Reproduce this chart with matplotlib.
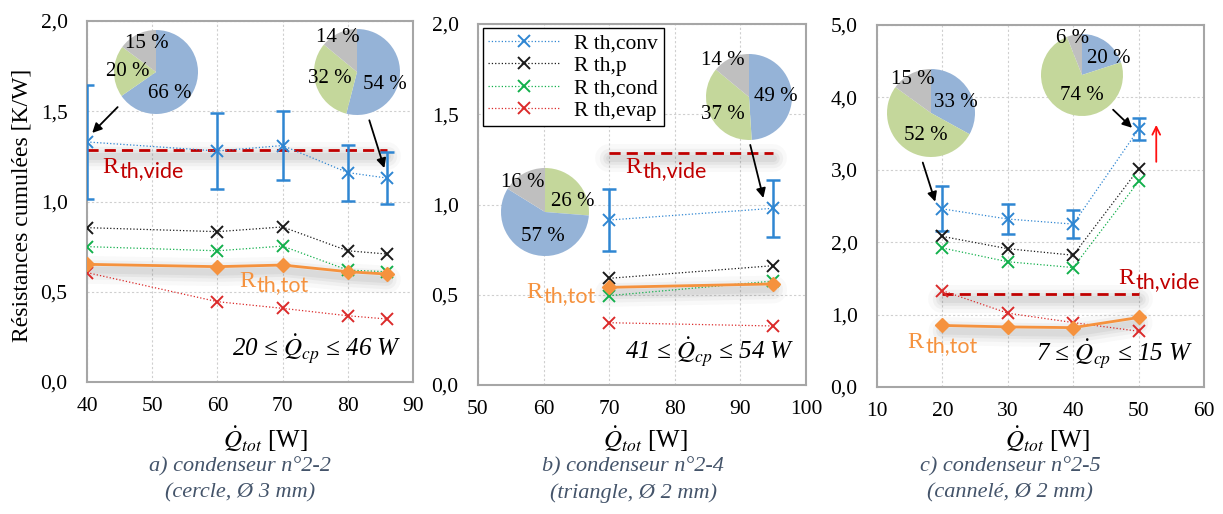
import matplotlib
matplotlib.use("Agg")
import matplotlib.pyplot as plt
import matplotlib.transforms as mtransforms

plt.rcParams['font.family'] = ['Liberation Serif', 'DejaVu Serif']
plt.rcParams['mathtext.fontset'] = 'stix'

# ---- data ----
# a) condenseur 2-2
q_a = [40, 60, 70, 80, 86]
conv_a = [1.33, 1.28, 1.31, 1.16, 1.13]
conv_err_a = [0.315, 0.21, 0.19, 0.155, 0.145]
p_a = [0.855, 0.833, 0.859, 0.727, 0.709]
cond_a = [0.75, 0.727, 0.753, 0.62, 0.611]
evap_a = [0.606, 0.445, 0.408, 0.367, 0.349]
tot_a = [0.652, 0.639, 0.648, 0.611, 0.598]
vide_a = 1.285

# b) condenseur 2-4
q_b = [70, 95]
conv_b = [0.914, 0.979]
conv_err_b = [0.174, 0.157]
p_b = [0.591, 0.661]
cond_b = [0.495, 0.576]
evap_b = [0.345, 0.327]
tot_b = [0.541, 0.56]
vide_b = 1.287

# c) condenseur 2-5
q_c = [20, 30, 40, 50]
conv_c = [2.46, 2.32, 2.25, 3.56]
conv_err_c = [0.31, 0.21, 0.19, 0.155]
p_c = [2.08, 1.91, 1.82, 3.01]
cond_c = [1.92, 1.73, 1.65, 2.84]
evap_c = [1.33, 1.02, 0.89, 0.77]
tot_c = [0.85, 0.83, 0.82, 0.96]
vide_c = 1.29

# pie shares, in drawing order (clockwise from top)
pie_a1 = [66, 20, 15]
pie_a2 = [54, 32, 14]
pie_b1 = [26, 57, 16]
pie_b2 = [49, 37, 14]
pie_c1 = [33, 52, 15]
pie_c2 = [20, 74, 6]
pie_parts_std = ['conv', 'cond', 'p']
pie_parts_b1 = ['cond', 'conv', 'p']

legend_labels = ['R th,conv', 'R th,p', 'R th,cond', 'R th,evap']
captions = [('a) condenseur n°2-2', '(cercle, Ø 3 mm)'),
            ('b) condenseur n°2-4', '(triangle, Ø 2 mm)'),
            ('c) condenseur n°2-5', '(cannelé, Ø 2 mm)')]
ranges = [('20', '46'), ('41', '54'), ('7', '15')]

BLUE = '#2F86D2'
BLACK = '#1A1A1A'
GREEN = '#12B04C'
RED = '#DB2A2A'
ORANGE = '#F5923E'
DARKRED = '#C00000'
PIE_COL = {'conv': '#95B3D7', 'cond': '#C4D79B', 'p': '#BFBFBF'}

W, H = 1223, 514
fig = plt.figure(figsize=(W / 100, H / 100), dpi=100)


def px_axes(left, top, right, bottom):
    return fig.add_axes([left / W, 1 - bottom / H, (right - left) / W, (bottom - top) / H])


def fmt(v, _=None):
    return ('%.1f' % v).replace('.', ',')


def shadow(ax, x, y):
    tr = ax.transData + mtransforms.ScaledTranslation(0, -4 / 72, fig.dpi_scale_trans)
    for w, a in [(20, 0.035), (14, 0.05), (9, 0.07), (5, 0.08)]:
        ax.plot(x, y, color='0.35', lw=w, alpha=a, transform=tr,
                solid_capstyle='round', zorder=1)


def r_label(ax, x, y, sub, color):
    # big serif "R" followed by a lowered sans subscript
    ax.text(x, y, 'R', color=color, fontsize=17.5, va='baseline', zorder=6)
    tr = ax.transData + mtransforms.ScaledTranslation(12.5 / 72, -3 / 72, fig.dpi_scale_trans)
    ax.text(x, y, sub, color=color, fontsize=15.5, va='baseline', family='Lato',
            transform=tr, zorder=6)


def panel(ax, q, conv, err, p, cond, evap, tot, vide, xlim, ymax, ystep):
    ax.set_xlim(*xlim)
    ax.set_ylim(0, ymax)
    ax.set_xticks(range(xlim[0], xlim[1] + 1, 10))
    yt = [i * ystep for i in range(int(round(ymax / ystep)) + 1)]
    ax.set_yticks(yt)
    ax.yaxis.set_major_formatter(plt.FuncFormatter(fmt))
    ax.grid(True, color='#CFCFCF', lw=0.8, ls=(0, (2, 2)))
    ax.set_axisbelow(True)
    for s in ax.spines.values():
        s.set_color('#A6A6A6')
        s.set_linewidth(1.5)
    ax.tick_params(length=0, labelsize=15.5)
    ax.tick_params(axis='x', pad=11)
    ax.tick_params(axis='y', pad=14)

    shadow(ax, [q[0], q[-1]], [vide, vide])
    shadow(ax, q, tot)
    ax.plot([q[0], q[-1]], [vide, vide], color=DARKRED, lw=2, dashes=(4, 2.2), zorder=3)

    mk = dict(marker='x', ms=9, mew=1.4, lw=0.9, ls=':', zorder=4)
    ax.errorbar(q, conv, yerr=err, fmt='none', ecolor=BLUE, elinewidth=1.8,
                capsize=5, capthick=1.8, zorder=4)
    ax.plot(q, conv, color=BLUE, label=legend_labels[0], **mk)
    ax.plot(q, p, color=BLACK, label=legend_labels[1], **mk)
    ax.plot(q, cond, color=GREEN, label=legend_labels[2], **mk)
    ax.plot(q, evap, color=RED, label=legend_labels[3], **mk)
    ax.plot(q, tot, color=ORANGE, lw=2, marker='D', ms=7, zorder=5)


def pie_at(cx, cy, r, vals, parts, label_pos):
    pa = fig.add_axes([(cx - r) / W, 1 - (cy + r) / H, 2 * r / W, 2 * r / H])
    pa.pie(vals, colors=[PIE_COL[k] for k in parts], startangle=90, counterclock=False,
           radius=1, wedgeprops=dict(lw=0))
    pa.set_xlim(-1, 1)
    pa.set_ylim(-1, 1)
    pa.set_aspect('auto')
    pa.axis('off')
    for v, (dx, dy) in zip(vals, label_pos):
        pa.text(dx, dy, '%d %%' % v, ha='center', va='center', fontsize=15, color='k')


def arrow(ax, start, end, color='k', style='-|>'):
    ax.annotate('', xy=end, xytext=start,
                arrowprops=dict(arrowstyle=style, color=color, lw=1.3, mutation_scale=14,
                                shrinkA=0, shrinkB=0), zorder=7)


ax_a = px_axes(87, 21, 413, 382)
ax_b = px_axes(478, 24, 806, 385)
ax_c = px_axes(877, 25, 1204, 387)

panel(ax_a, q_a, conv_a, conv_err_a, p_a, cond_a, evap_a, tot_a, vide_a, (40, 90), 2.0, 0.5)
panel(ax_b, q_b, conv_b, conv_err_b, p_b, cond_b, evap_b, tot_b, vide_b, (50, 100), 2.0, 0.5)
panel(ax_c, q_c, conv_c, conv_err_c, p_c, cond_c, evap_c, tot_c, vide_c, (10, 60), 5.0, 1.0)

r_label(ax_a, 42.3, 1.158, 'th,vide', DARKRED)
r_label(ax_a, 63.4, 0.526, 'th,tot', ORANGE)
r_label(ax_b, 72.4, 1.174, 'th,vide', DARKRED)
r_label(ax_b, 57.3, 0.482, 'th,tot', ORANGE)
r_label(ax_c, 46.85, 1.425, 'th,vide', DARKRED)
r_label(ax_c, 14.7, 0.54, 'th,tot', ORANGE)

for ax, (lo, hi) in zip([ax_a, ax_b, ax_c], ranges):
    ax.text(0.965, 0.045, '%s ≤ $\\dot{Q}_{cp}$ ≤ %s W' % (lo, hi), style='italic',
            transform=ax.transAxes, ha='right', va='bottom', fontsize=18)

arrow(ax_a, (44.7, 1.523), (40.8, 1.38))
arrow(ax_a, (83.3, 1.45), (85.6, 1.185))
arrow(ax_b, (91.5, 1.33), (93.5, 1.036))
arrow(ax_c, (17.0, 3.10), (18.9, 2.56))
arrow(ax_c, (46.1, 3.83), (49.0, 3.58))
arrow(ax_c, (52.7, 3.11), (52.7, 3.62), color='#FF1010', style='->')

leg = ax_b.legend(loc='upper left', bbox_to_anchor=(0.015, 0.99), borderaxespad=0,
                  fontsize=15.5, handlelength=3.3, labelspacing=0.12, frameon=True,
                  fancybox=False, edgecolor='k', framealpha=1, borderpad=0.25,
                  handletextpad=0.7)
leg.get_frame().set_linewidth(1.0)
leg.set_zorder(8)

pie_at(156, 72, 42, pie_a1, pie_parts_std, [(0.33, -0.5), (-0.67, 0.0), (-0.21, 0.69)])
pie_at(357, 72, 43, pie_a2, pie_parts_std, [(0.65, -0.3), (-0.63, -0.14), (-0.44, 0.81)])
pie_at(545, 212, 44, pie_b1, pie_parts_b1, [(0.64, 0.23), (-0.05, -0.55), (-0.5, 0.68)])
pie_at(749, 97, 43, pie_b2, pie_parts_std, [(0.63, 0.02), (-0.6, -0.4), (-0.6, 0.86)])
pie_at(931, 113, 44, pie_c1, pie_parts_std, [(0.57, 0.23), (-0.11, -0.52), (-0.41, 0.75)])
pie_at(1082, 75, 41, pie_c2, pie_parts_std, [(0.66, 0.41), (0.0, -0.49), (-0.22, 0.9)])

fig.text(22 / W, 1 - 205 / H, 'Résistances cumulées [K/W]', rotation=90,
         ha='center', va='center', fontsize=17)

for xc in [265, 645, 1047]:
    fig.text(xc / W, 1 - 439 / H, r'$\dot{Q}_{tot}$ [W]', ha='center', va='center', fontsize=18)

for xc, (l1, l2) in zip([240, 633, 1010], captions):
    fig.text(xc / W, 1 - 467 / H, l1, ha='center', va='center', fontsize=16,
             style='italic', color='#44546A')
    fig.text(xc / W, 1 - 493 / H, l2, ha='center', va='center', fontsize=16,
             style='italic', color='#44546A')

fig.savefig('out.png', dpi=100)
